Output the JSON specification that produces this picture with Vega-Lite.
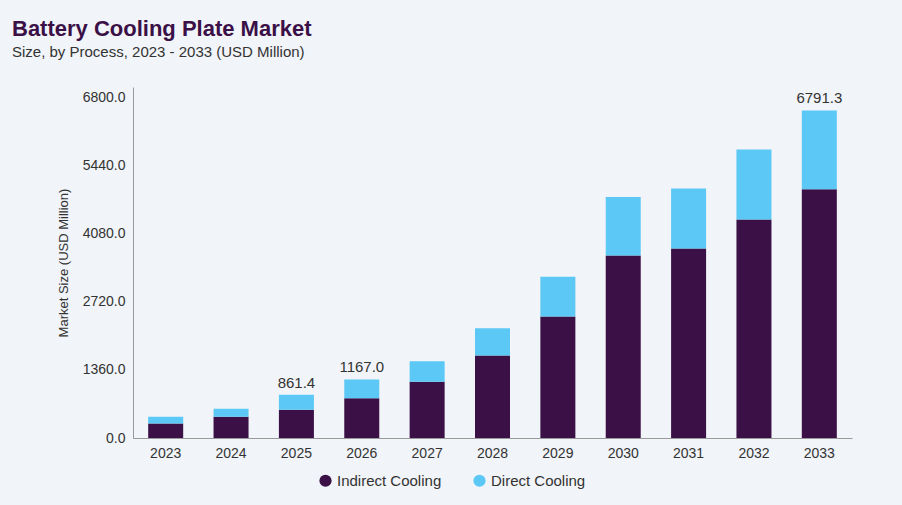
{
  "$schema": "https://vega.github.io/schema/vega-lite/v6.json",
  "width": 719,
  "height": 351,
  "autosize": "none",
  "padding": {"left": 133, "top": 87, "right": 50, "bottom": 67},
  "background": "#f1f4f8",
  "config": {"view": {"stroke": null}, "font": "Liberation Sans"},
  "title": {
    "text": "Battery Cooling Plate Market",
    "subtitle": "Size, by Process, 2023 - 2033 (USD Million)",
    "anchor": "start",
    "frame": "group",
    "dx": -121,
    "offset": 26,
    "fontSize": 22,
    "fontWeight": "bold",
    "color": "#3a1047",
    "subtitleFontSize": 15,
    "subtitleColor": "#333333",
    "subtitlePadding": 4
  },
  "datasets": {
    "bars": [
      {"year": "2023", "process": "Indirect Cooling", "value": 290},
      {"year": "2023", "process": "Direct Cooling", "value": 136},
      {"year": "2024", "process": "Indirect Cooling", "value": 426},
      {"year": "2024", "process": "Direct Cooling", "value": 155},
      {"year": "2025", "process": "Indirect Cooling", "value": 562},
      {"year": "2025", "process": "Direct Cooling", "value": 299.4},
      {"year": "2026", "process": "Indirect Cooling", "value": 794},
      {"year": "2026", "process": "Direct Cooling", "value": 373},
      {"year": "2027", "process": "Indirect Cooling", "value": 1123},
      {"year": "2027", "process": "Direct Cooling", "value": 407},
      {"year": "2028", "process": "Indirect Cooling", "value": 1646},
      {"year": "2028", "process": "Direct Cooling", "value": 543},
      {"year": "2029", "process": "Indirect Cooling", "value": 2421},
      {"year": "2029", "process": "Direct Cooling", "value": 794},
      {"year": "2030", "process": "Indirect Cooling", "value": 3641},
      {"year": "2030", "process": "Direct Cooling", "value": 1163},
      {"year": "2031", "process": "Indirect Cooling", "value": 3777},
      {"year": "2031", "process": "Direct Cooling", "value": 1201},
      {"year": "2032", "process": "Indirect Cooling", "value": 4358},
      {"year": "2032", "process": "Direct Cooling", "value": 1395},
      {"year": "2033", "process": "Indirect Cooling", "value": 4959},
      {"year": "2033", "process": "Direct Cooling", "value": 1573}
    ],
    "labels": [
      {"year": "2025", "total": 861.4, "shown": 861.4},
      {"year": "2026", "total": 1167.0, "shown": 1167.0},
      {"year": "2033", "total": 6532, "shown": 6791.3}
    ]
  },
  "layer": [
    {
      "data": {"name": "bars"},
      "mark": {"type": "bar", "width": 35},
      "encoding": {
        "x": {"field": "year", "type": "nominal", "title": null,
          "axis": {"labelAngle": 0, "labelFontSize": 14, "labelColor": "#333333", "domainColor": "#999999", "ticks": false, "labelPadding": 8}},
        "y": {"field": "value", "type": "quantitative", "stack": "zero",
          "scale": {"domain": [0, 6800]},
          "title": "Market Size (USD Million)",
          "axis": {"values": [0, 1360, 2720, 4080, 5440, 6800], "format": ".1f", "grid": false, "ticks": false,
            "domainColor": "#999999", "labelFontSize": 14, "labelColor": "#333333", "titleFontSize": 13, "titleFontWeight": "normal", "titleColor": "#333333", "labelPadding": 8, "titlePadding": 12}},
        "color": {"field": "process", "type": "nominal",
          "scale": {"domain": ["Indirect Cooling", "Direct Cooling"], "range": ["#3a1047", "#5bc8f5"]},
          "legend": {"title": null, "orient": "none", "legendX": 185, "legendY": 386, "direction": "horizontal", "symbolType": "circle", "symbolSize": 150, "labelFontSize": 15, "labelColor": "#333333", "columnPadding": 30}},
        "order": {"field": "process", "sort": "descending"}
      }
    },
    {
      "data": {"name": "labels"},
      "mark": {"type": "text", "dy": -12, "fontSize": 15, "color": "#333333"},
      "encoding": {
        "x": {"field": "year", "type": "nominal"},
        "y": {"field": "total", "type": "quantitative"},
        "text": {"field": "shown", "type": "quantitative", "format": ".1f"}
      }
    }
  ]
}
